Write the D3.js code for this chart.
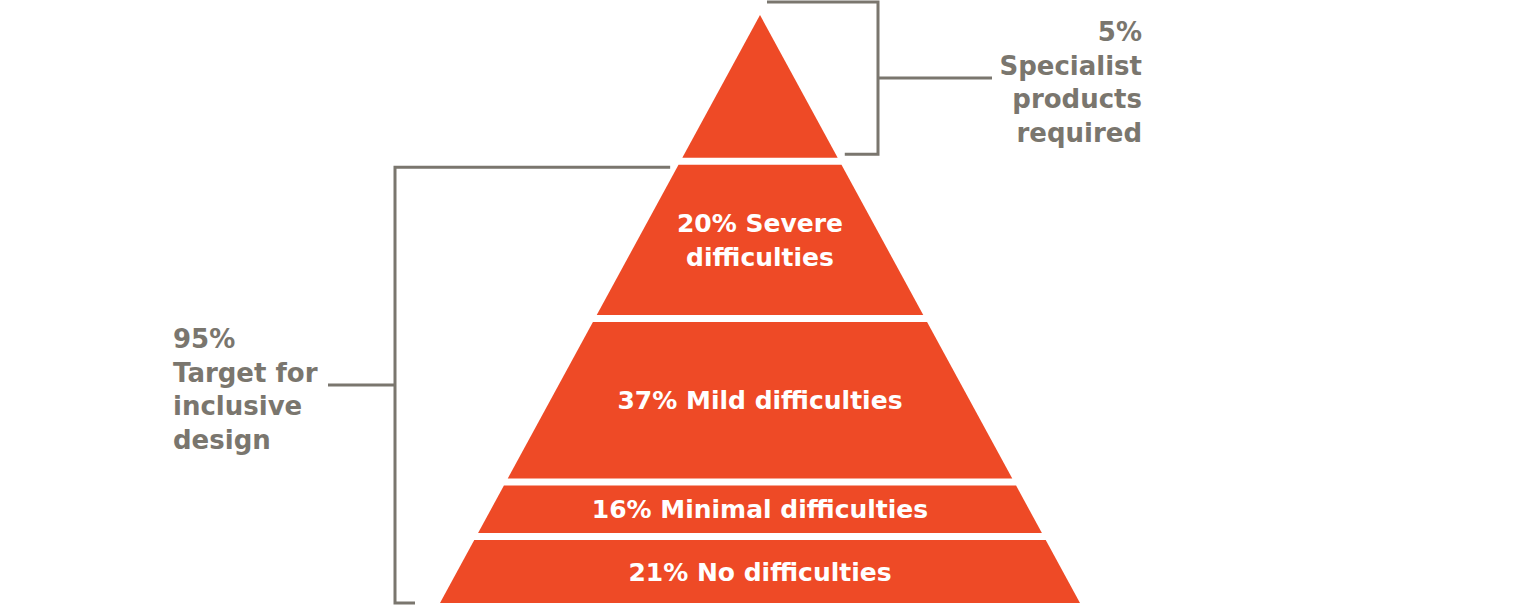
<!DOCTYPE html>
<html>
<head>
<meta charset="utf-8">
<script src="https://cdn.jsdelivr.net/npm/d3@7/dist/d3.min.js"></script>
<style>
	html, body { margin: 0; padding: 0; background: #fff; }
	svg { display: block; }
</style>
</head>
<body>
<div id="chart"></div>
<script>
// bands of the pyramid, top to bottom
const bandNames = ["Specialist products required", "Severe difficulties", "Mild difficulties", "Minimal difficulties", "No difficulties"];
const bandShares = [5, 20, 37, 16, 21];
// text written inside each band (top band has none)
const bandLines = [[], ["20% Severe", "difficulties"], ["37% Mild difficulties"], ["16% Minimal difficulties"], ["21% No difficulties"]];

// the two brackets on the sides
const groupShares = [5, 95];
const groupLines = [["5%", "Specialist", "products", "required"], ["95%", "Target for", "inclusive", "design"]];
const groupSides = ["right", "left"];

const ORANGE = "#ee4a26";
const GREY = "#7a766e";
const FONT = "'DejaVu Sans', sans-serif";

function whenDocumentLoaded(action) {
	if (document.readyState === "loading") {
		document.addEventListener("DOMContentLoaded", action);
	} else {
		action();
	}
}

function draw_pyramid() {
	let width = 1520;
	let height = 606;
	let cx = 760;
	let apexY = 15;
	let baseY = 603;
	let halfBase = 320;
	let gap = 3.5;

	let svg = d3.select("#chart").append("svg")
		.attr("width", width)
		.attr("height", height);

	// cumulative share -> y (area proportional pyramid)
	let y = d3.scaleSqrt().domain([0, 100]).range([34, baseY]);
	// y -> half width of the triangle
	let hw = d3.scaleLinear().domain([apexY, baseY]).range([0, halfBase]).clamp(true);

	let cum = d3.cumsum(bandShares);
	let bands = bandShares.map(function(d, i) {
		let start = i == 0 ? 0 : cum[i - 1];
		let top = i == 0 ? apexY : y(start) + gap;
		let bottom = i == bandShares.length - 1 ? baseY : y(cum[i]) - gap;
		return {name: bandNames[i], share: d, lines: bandLines[i], top: top, bottom: bottom};
	});

	svg.append("g").selectAll("path")
		.data(bands).enter().append("path")
		.attr("fill", ORANGE)
		.attr("d", function(d) {
			return "M" + (cx - hw(d.top)) + "," + d.top +
				"L" + (cx + hw(d.top)) + "," + d.top +
				"L" + (cx + hw(d.bottom)) + "," + d.bottom +
				"L" + (cx - hw(d.bottom)) + "," + d.bottom + "Z";
		});

	// labels inside the bands
	let lineH = 34;
	bands.forEach(function(d) {
		let mid = (d.top + d.bottom) / 2;
		d.lines.forEach(function(line, j) {
			svg.append("text")
				.attr("x", cx)
				.attr("y", mid + (j - (d.lines.length - 1) / 2) * lineH)
				.attr("dy", "0.36em")
				.attr("text-anchor", "middle")
				.style("font-family", FONT)
				.style("font-weight", 700)
				.style("font-size", "25px")
				.style("fill", "#fff")
				.text(line);
		});
	});

	// brackets
	let gcum = d3.cumsum(groupShares);
	groupShares.forEach(function(g, i) {
		let side = groupSides[i];
		let top = i == 0 ? apexY - 13 : y(gcum[i - 1]) + 6;
		let bottom = i == groupShares.length - 1 ? baseY : y(gcum[i]) - 7;
		let mid = (top + bottom) / 2;
		let bx = side == "right" ? 878 : 395;
		let dir = side == "right" ? 1 : -1;
		let edgeTop = cx + dir * hw(top);
		let edgeBot = cx + dir * hw(bottom);
		let insetBot = i == groupShares.length - 1 ? 25 : 9;

		let path = d3.path();
		path.moveTo(edgeTop + dir * 7, top);
		path.lineTo(bx, top);
		path.lineTo(bx, bottom);
		path.lineTo(edgeBot + dir * insetBot, bottom);
		path.moveTo(bx, mid);
		path.lineTo(bx + dir * (side == "right" ? 114 : 67), mid);

		svg.append("path")
			.attr("d", path.toString())
			.attr("fill", "none")
			.attr("stroke", GREY)
			.attr("stroke-width", 3);

		let tx = side == "right" ? 1142 : 173;
		let lines = groupLines[i];
		lines.forEach(function(line, j) {
			svg.append("text")
				.attr("x", tx)
				.attr("y", mid + 4 + (j - (lines.length - 1) / 2) * 33.5)
				.attr("dy", "0.36em")
				.attr("text-anchor", side == "right" ? "end" : "start")
				.style("font-family", FONT)
				.style("font-weight", 700)
				.style("font-size", "26px")
				.style("fill", GREY)
				.text(line);
		});
	});
}

whenDocumentLoaded(() => {
	draw_pyramid();
});
</script>
</body>
</html>
